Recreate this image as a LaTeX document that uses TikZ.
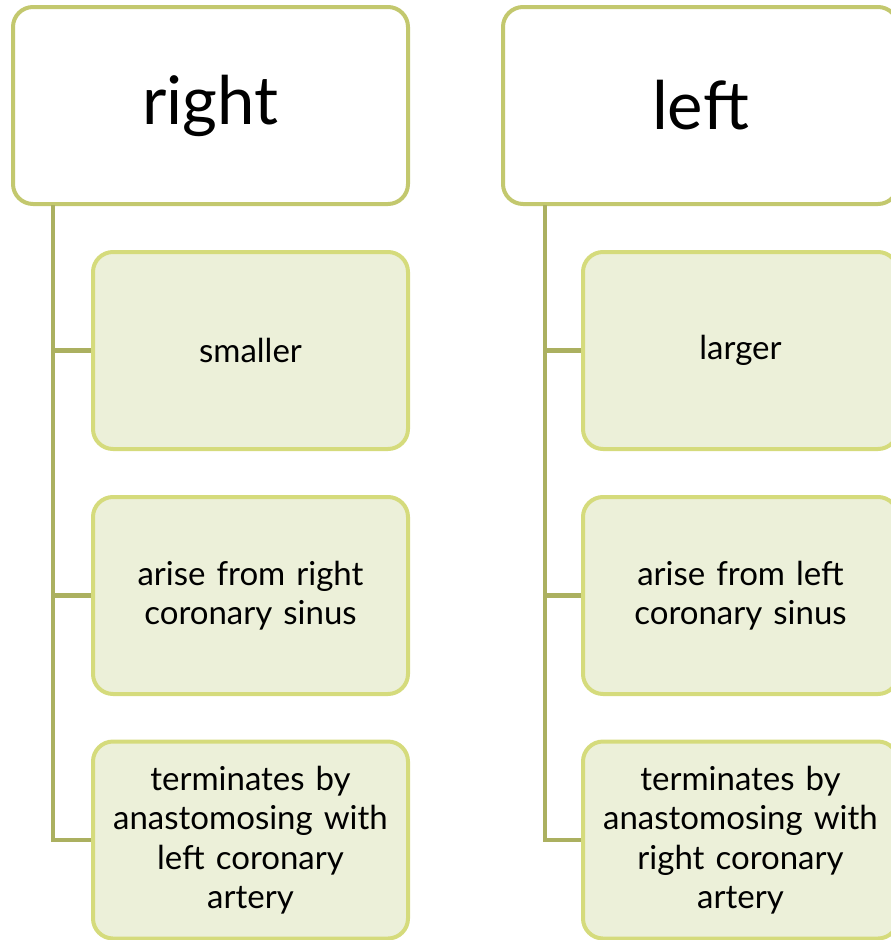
\documentclass[tikz,border=0pt]{standalone}
\usepackage{fontspec}
\setmainfont{Lato}
\definecolor{topbd}{HTML}{C3C86E}
\definecolor{chbd}{HTML}{D5DB7C}
\definecolor{chfill}{HTML}{ECF0D9}
\definecolor{conn}{HTML}{ABB060}
\tikzset{
  topbox/.style={draw=topbd, line width=4pt, fill=white, rounded corners=20pt, minimum width=395pt, minimum height=197pt, inner sep=0pt, font=\fontsize{67}{78}\selectfont},
  childbox/.style={draw=chbd, line width=4pt, fill=chfill, rounded corners=20pt, minimum width=315pt, minimum height=197pt, inner sep=0pt, align=center, text width=310pt, font=\fontsize{33}{39.5}\selectfont},
  conline/.style={draw=conn, line width=4.5pt}
}
\begin{document}
\begin{tikzpicture}[x=1pt,y=-1pt]
\useasboundingbox (0,0) rectangle (891,940);
% right column
\node[topbox] (R) at (210.5,105.5) {\raisebox{-4pt}{right}};
\coordinate (Rv) at (53,205);
\node[childbox] (R1) at (250.5,350.5) {smaller};
\node[childbox] (R2) at (250.5,595.5) {arise from right\\coronary sinus};
\node[childbox] (R3) at (250.5,840) {terminates by\\anastomosing with\\left coronary\\artery};
\coordinate (Rb) at (53,840);
\draw[conline] (Rv) -- (Rb) -- (R3.west);
\draw[conline] (R1.west -| Rv) -- (R1.west);
\draw[conline] (R2.west -| Rv) -- (R2.west);
% left column
\node[topbox] (L) at (700.5,105.5) {left};
\coordinate (Lv) at (545,205);
\node[childbox] (L1) at (740.5,350.5) {larger};
\node[childbox] (L2) at (740.5,595.5) {arise from left\\coronary sinus};
\node[childbox] (L3) at (740.5,840) {terminates by\\anastomosing with\\right coronary\\artery};
\coordinate (Lb) at (545,840);
\draw[conline] (Lv) -- (Lb) -- (L3.west);
\draw[conline] (L1.west -| Lv) -- (L1.west);
\draw[conline] (L2.west -| Lv) -- (L2.west);
\end{tikzpicture}
\end{document}
